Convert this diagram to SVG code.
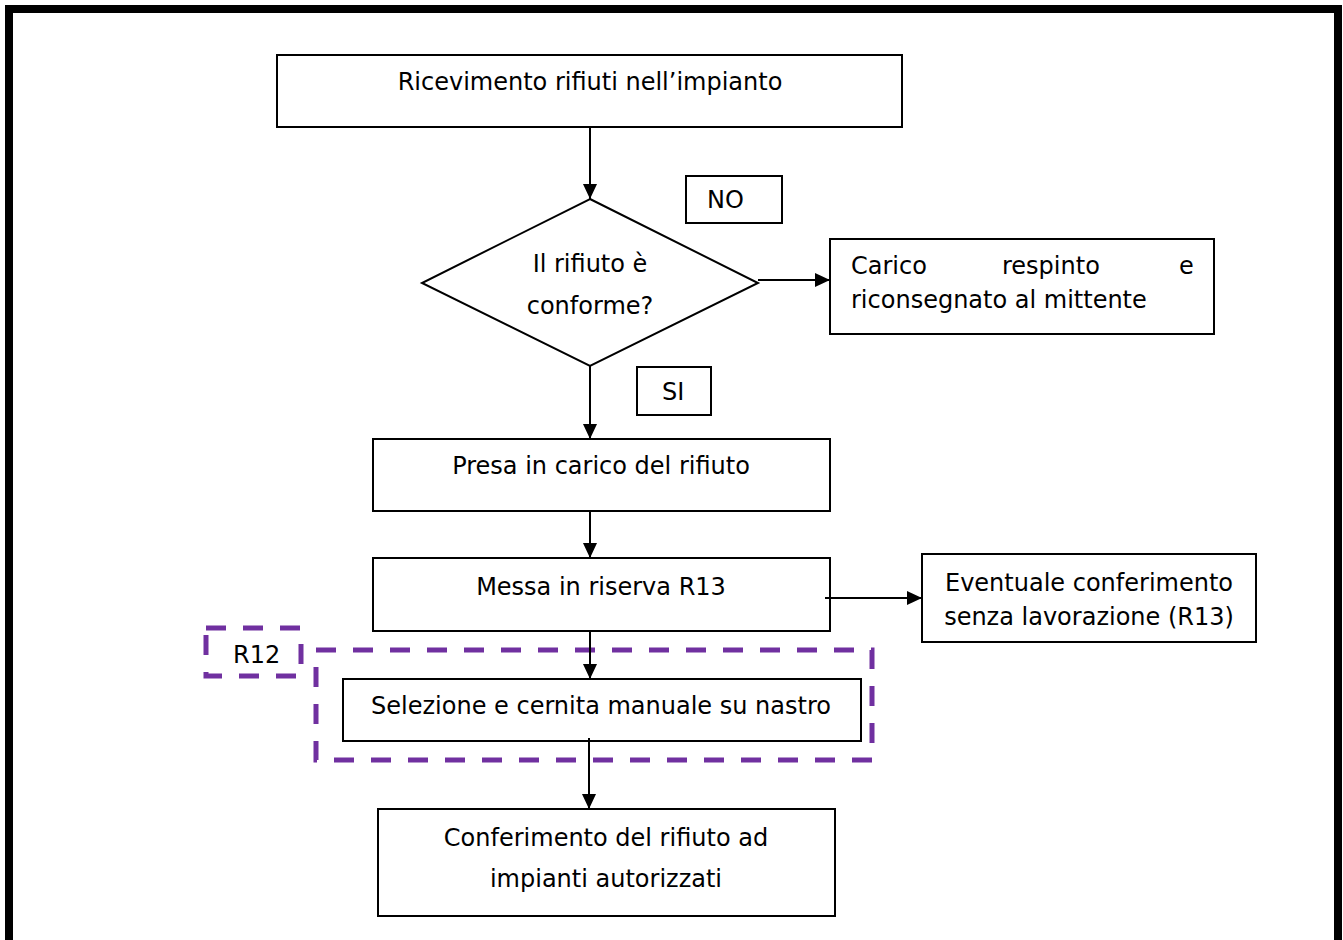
<svg xmlns="http://www.w3.org/2000/svg" width="1343" height="940" viewBox="0 0 1343 940">
<defs>
<marker id="ah" markerWidth="15" markerHeight="14" viewBox="0 0 15 14" refX="15" refY="7" orient="auto" markerUnits="userSpaceOnUse">
<path d="M0,0 L15,7 L0,14 Z" fill="#000"/>
</marker>
</defs>
<style>
.box{fill:#fff;stroke:#000;stroke-width:2}
.dash{fill:none;stroke:#7030A0;stroke-width:5;stroke-dasharray:20 17}
.t{font-family:"DejaVu Sans",Verdana,sans-serif;font-size:24px;fill:#000}
.m{text-anchor:middle}
.c{stroke:#000;stroke-width:2;fill:none;marker-end:url(#ah)}
</style>
<rect x="0" y="0" width="1343" height="940" fill="#fff"/>
<rect x="9" y="9" width="1329" height="960" fill="none" stroke="#000" stroke-width="8"/>

<g id="n-ricevimento">
<rect class="box" x="277" y="55" width="625" height="72"/>
<text class="t m" x="590" y="90">Ricevimento rifiuti nell’impianto</text>
</g>
<g id="n-no">
<rect class="box" x="686" y="176" width="96" height="47"/>
<text class="t" x="707" y="208">NO</text>
</g>
<g id="n-conforme">
<polygon class="box" points="590,199 758,283 590,366 422,283"/>
<text class="t m" x="590" y="272">Il rifiuto è</text>
<text class="t m" x="590" y="314">conforme?</text>
</g>
<g id="n-carico">
<rect class="box" x="830" y="239" width="384" height="95"/>
<text class="t" y="274"><tspan x="851">Carico</tspan><tspan x="1002">respinto</tspan><tspan x="1179">e</tspan></text>
<text class="t" x="851" y="308">riconsegnato al mittente</text>
</g>
<g id="n-si">
<rect class="box" x="637" y="367" width="74" height="48"/>
<text class="t" x="662" y="400">SI</text>
</g>
<g id="n-presa">
<rect class="box" x="373" y="439" width="457" height="72"/>
<text class="t m" x="601" y="474">Presa in carico del rifiuto</text>
</g>
<g id="n-messa">
<rect class="box" x="373" y="558" width="457" height="73"/>
<text class="t m" x="601" y="595">Messa in riserva R13</text>
</g>
<g id="n-eventuale">
<rect class="box" x="922" y="554" width="334" height="88"/>
<text class="t m" x="1089" y="591">Eventuale conferimento</text>
<text class="t m" x="1089" y="625">senza lavorazione (R13)</text>
</g>
<g id="n-r12">
<rect class="dash" x="206" y="628" width="95" height="48"/>
<text class="t" x="233" y="663">R12</text>
</g>
<g id="n-r12-area">
<rect class="dash" x="316" y="650" width="556" height="110"/>
</g>
<g id="n-selezione">
<rect class="box" x="343" y="679" width="518" height="62"/>
<text class="t m" x="601" y="714">Selezione e cernita manuale su nastro</text>
</g>
<g id="n-conferimento">
<rect class="box" x="378" y="809" width="457" height="107"/>
<text class="t m" x="606" y="846">Conferimento del rifiuto ad</text>
<text class="t m" x="606" y="887">impianti autorizzati</text>
</g>

<g id="connectors">
<line class="c" x1="590" y1="127" x2="590" y2="199"/>
<line class="c" x1="758" y1="280" x2="830" y2="280"/>
<line class="c" x1="590" y1="366" x2="590" y2="439"/>
<line class="c" x1="590" y1="511" x2="590" y2="558"/>
<line class="c" x1="825" y1="598" x2="922" y2="598"/>
<line class="c" x1="590" y1="631" x2="590" y2="679"/>
<line class="c" x1="589" y1="738" x2="589" y2="809"/>
</g>
</svg>
